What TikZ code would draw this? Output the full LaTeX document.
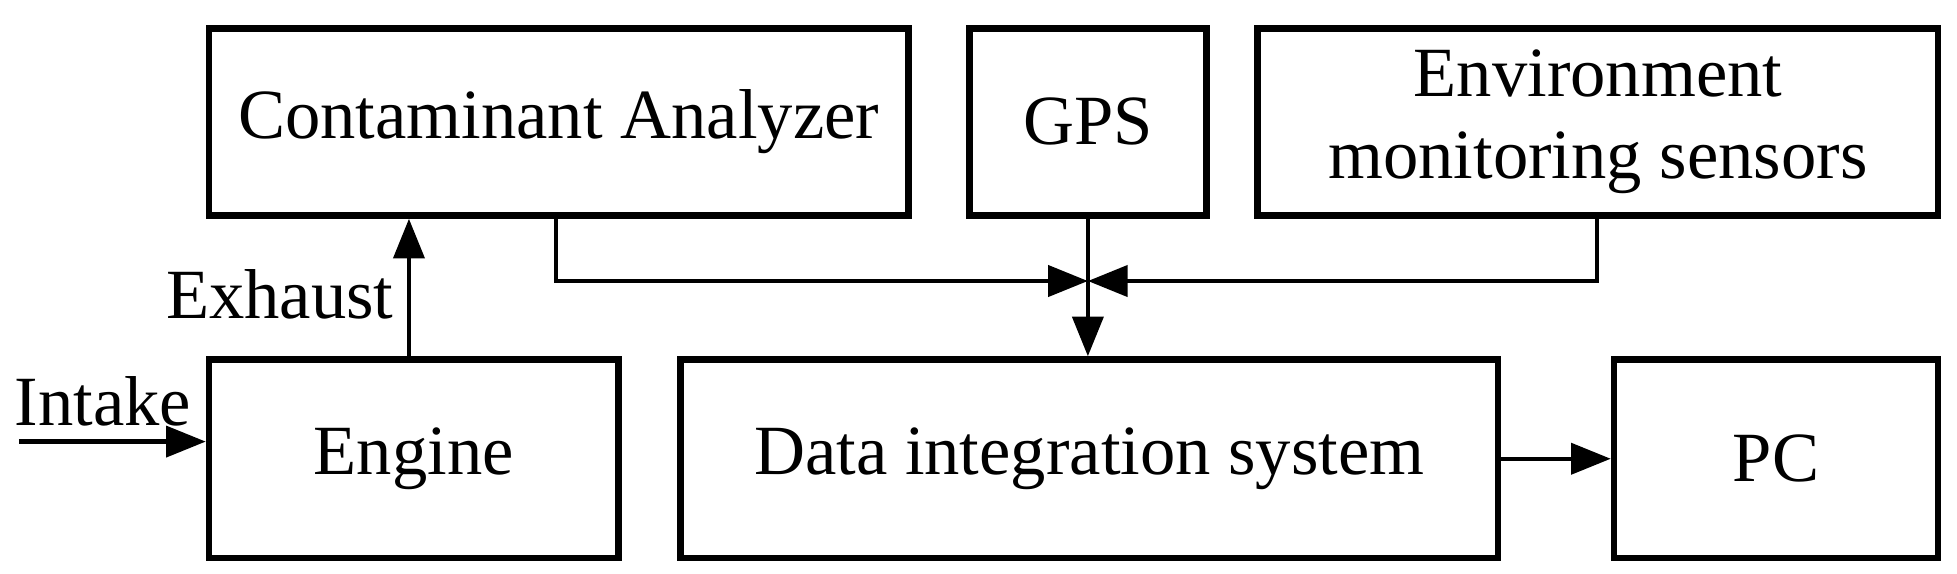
\documentclass[tikz,border=0pt]{standalone}
\usepackage{fontspec}
\setmainfont{Liberation Serif}
\usetikzlibrary{arrows.meta}
\begin{document}
\begin{tikzpicture}[x=0.01cm,y=-0.01cm,
 box/.style={draw,line width=1.5pt,inner sep=0pt,font=\fontsize{16}{18.5}\selectfont,align=center},
 con/.style={line width=1pt},
 arr/.style={con,-{Triangle[length=9pt,width=7pt]}},
 lab/.style={font=\fontsize{16}{18.5}\selectfont,inner sep=1pt}]
\useasboundingbox (0,0) rectangle (1560,457);
\node[box,anchor=north west,minimum width=5.57cm,minimum height=1.49cm] (ca) at (164,20) {Contaminant Analyzer};
\node[box,anchor=north west,minimum width=1.89cm,minimum height=1.49cm] (gps) at (770,20) {GPS};
\node[box,anchor=north west,minimum width=5.42cm,minimum height=1.49cm] (env) at (1000,20) {Environment\\monitoring sensors};
\node[box,anchor=north west,minimum width=3.26cm,minimum height=1.58cm] (eng) at (164,284) {Engine};
\node[box,anchor=north west,minimum width=6.51cm,minimum height=1.58cm] (dis) at (540,284) {Data integration system};
\node[box,anchor=north west,minimum width=2.58cm,minimum height=1.58cm] (pc) at (1284,284) {PC};
\coordinate (j) at (gps.south|-0,224);
\coordinate (in) at (15,352);
\draw[arr] (in) -- (eng.west|-in) node[lab,pos=0.45,above=2pt] {Intake};
\draw[arr] (eng.north-|326,0) -- (ca.south-|326,0) node[lab,pos=0.45,left=2pt] {Exhaust};
\draw[arr] (ca.south-|443,0) |- (j);
\draw[arr] (env.south-|1273,0) |- (j);
\draw[con] (gps.south) -- (j);
\draw[arr] (j) -- (dis.north-|j);
\draw[arr] (dis.east) -- (pc.west);
\end{tikzpicture}
\end{document}
